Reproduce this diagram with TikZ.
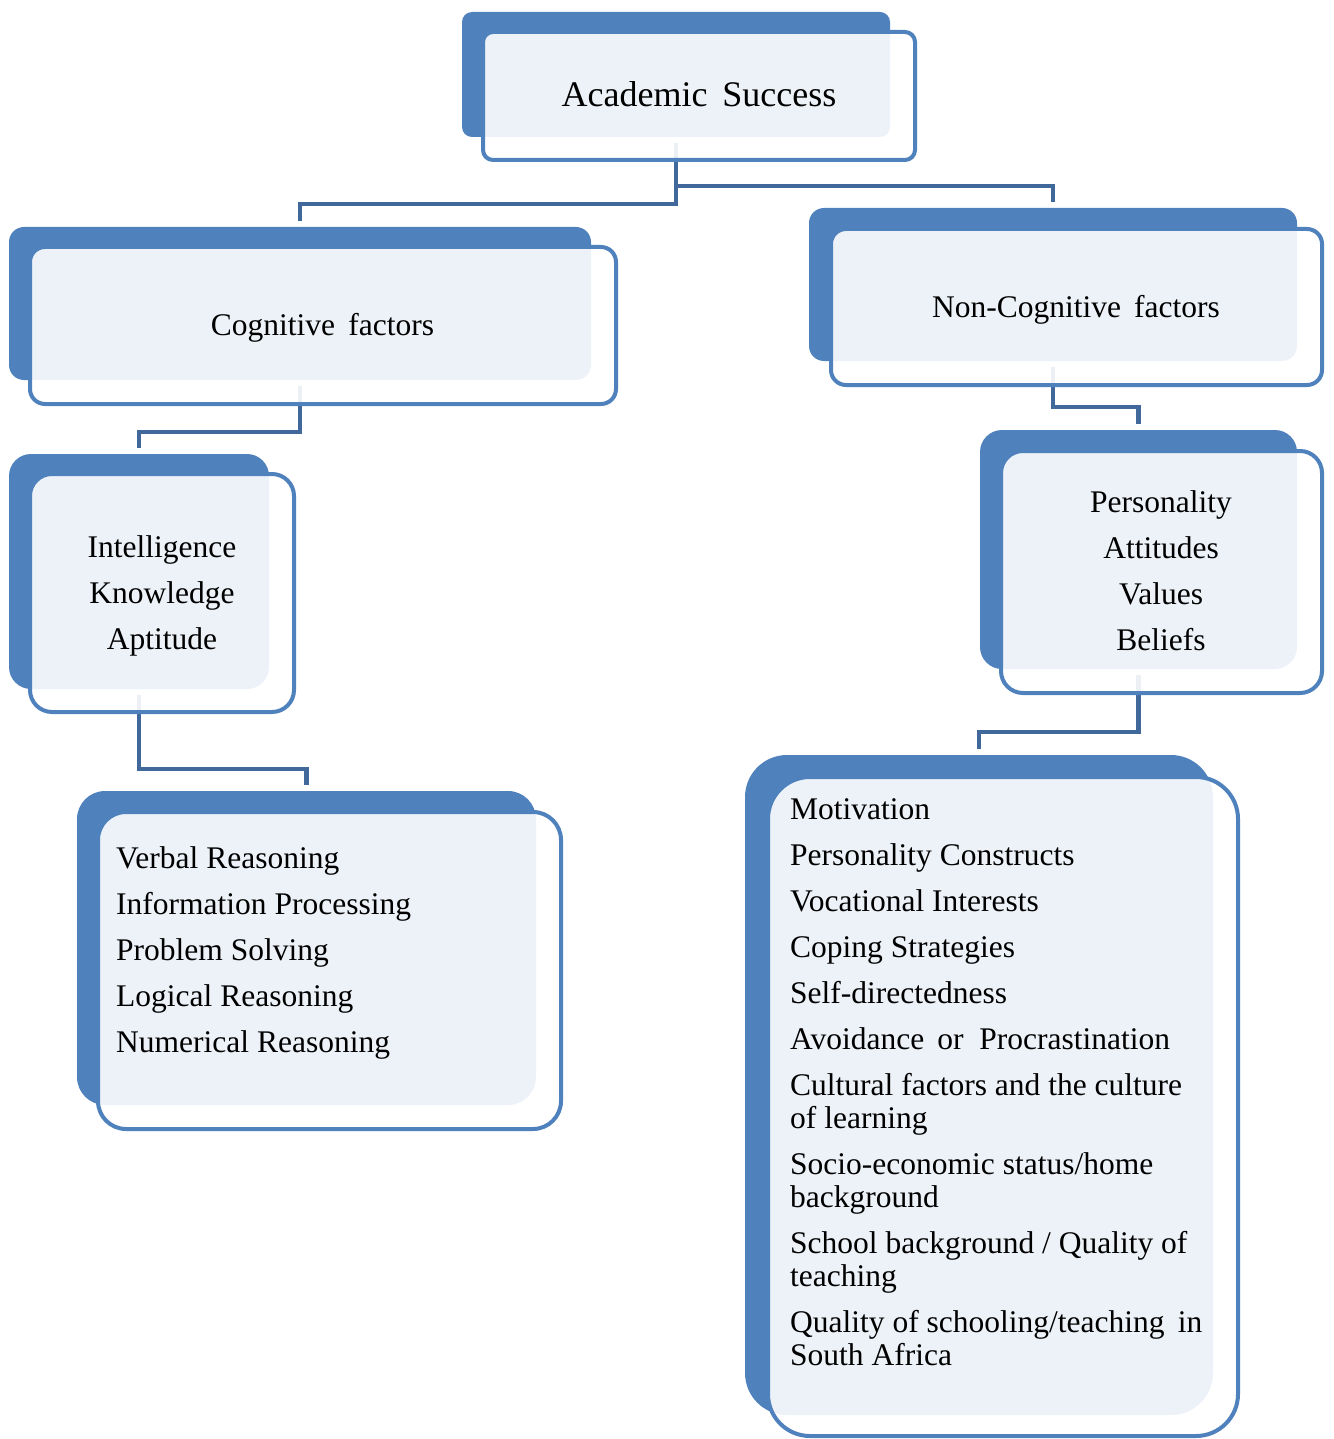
\documentclass[tikz,border=0pt]{standalone}
\usepackage{fontspec}
\setmainfont{Liberation Serif}
\usepackage{tikz}
\definecolor{boxblue}{RGB}{79,129,189}
\definecolor{linkblue}{RGB}{65,104,155}

\begin{document}
\begin{tikzpicture}[x=1pt,y=-1pt,
    backbox/.style={rectangle,fill=boxblue,inner sep=0pt},
    frontbox/.style={rectangle,draw=boxblue,line width=4pt,fill=white,fill opacity=0.9,inner sep=0pt},
    link/.style={draw=linkblue,line width=4.5pt},
    boxtext/.style={font=\fontsize{31.5}{46}\selectfont,align=center,inner sep=0pt},
    listtext/.style={font=\fontsize{31.5}{33}\selectfont,align=left,inner sep=0pt,anchor=west}]
    \useasboundingbox (0,0) rectangle (1333,1439);

    % Back boxes
    \node[backbox,minimum width=428pt,minimum height=125pt,rounded corners=10pt] (acadB) at (676,74.5) {};
    \node[backbox,minimum width=582pt,minimum height=153pt,rounded corners=15pt] (cogB) at (300,303.5) {};
    \node[backbox,minimum width=488pt,minimum height=153pt,rounded corners=15pt] (ncogB) at (1053,284.5) {};
    \node[backbox,minimum width=260pt,minimum height=235pt,rounded corners=22pt] (intB) at (139,571.5) {};
    \node[backbox,minimum width=317pt,minimum height=239pt,rounded corners=22pt] (persB) at (1138.5,549.5) {};
    \node[backbox,minimum width=459pt,minimum height=314pt,rounded corners=28pt] (verbB) at (306.5,948) {};
    \node[backbox,minimum width=468pt,minimum height=660pt,rounded corners=42pt] (motB) at (979,1085) {};

    % Connectors
    \draw[link] ([yshift=-6pt]acadB.south) -- ++(0,61) -| ([yshift=6pt]cogB.north);
    \draw[link] ([yshift=-6pt]acadB.south) -- ++(0,43) -| ([yshift=6pt]ncogB.north);
    \draw[link] ([yshift=-6pt]cogB.south) -- ++(0,46) -| ([yshift=6pt]intB.north);
    \draw[link] ([yshift=-6pt]intB.south) -- ++(0,74) -| ([yshift=6pt]verbB.north);
    \draw[link] ([yshift=-6pt]ncogB.south) -- ++(0,40) -| ([yshift=6pt]persB.north);
    \draw[link] ([yshift=-6pt]persB.south) -- ++(0,57) -| ([yshift=6pt]motB.north);

    % Front boxes
    \node[frontbox,minimum width=432pt,minimum height=128pt,rounded corners=10pt] (acad) at (699,96) {};
    \node[frontbox,minimum width=586pt,minimum height=157pt,rounded corners=15pt] (cog) at (323,325.5) {};
    \node[frontbox,minimum width=491pt,minimum height=156pt,rounded corners=15pt] (ncog) at (1076.5,307) {};
    \node[frontbox,minimum width=264pt,minimum height=238pt,rounded corners=22pt] (int) at (162,593) {};
    \node[frontbox,minimum width=321pt,minimum height=242pt,rounded corners=22pt] (pers) at (1161.5,572) {};
    \node[frontbox,minimum width=463pt,minimum height=317pt,rounded corners=28pt] (verb) at (329.5,970.5) {};
    \node[frontbox,minimum width=470pt,minimum height=659pt,rounded corners=42pt] (mot) at (1003,1106.5) {};

    % Texts
    \node[boxtext,font=\fontsize{36}{40}\selectfont,anchor=base] (acadT) at (699,107) {Academic\ \,Success};
    \node[boxtext,anchor=base] (cogT) at (322.5,335.5) {Cognitive\, factors};
    \node[boxtext,anchor=base] (ncogT) at (1076,317.5) {Non-Cognitive\, factors};
    \node[boxtext] (intT) at (162,595.7) {Intelligence\\Knowledge\\Aptitude};
    \node[boxtext] (persT) at (1161,571) {Personality\\Attitudes\\Values\\Beliefs};
    \node[listtext] (verbT) at (116,952.6) {Verbal Reasoning\\[13pt]
        Information Processing\\[13pt]
        Problem Solving\\[13pt]
        Logical Reasoning\\[13pt]
        Numerical Reasoning};
    \node[listtext] (motT) at (790,1082.5) {Motivation\\[13pt]
        Personality Constructs\\[13pt]
        Vocational Interests\\[13pt]
        Coping Strategies\\[13pt]
        Self-directedness\\[13pt]
        Avoidance\, or\ \ Procrastination\\[13pt]
        Cultural factors and the culture\\of learning\\[13pt]
        Socio-economic status/home\\background\\[13pt]
        School background / Quality of\\teaching\\[13pt]
        Quality of schooling/teaching\, in\\South Africa};
\end{tikzpicture}
\end{document}
